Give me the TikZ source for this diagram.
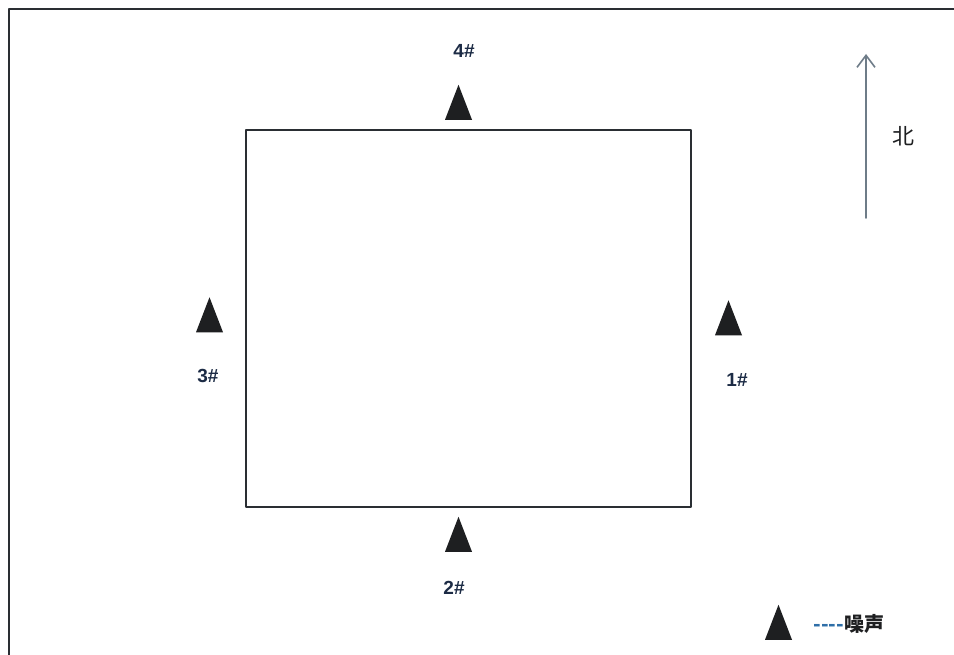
\documentclass[tikz,border=0pt]{standalone}
\usepackage{fontspec}
\setmainfont{Liberation Sans}
\newfontfamily\cjk{Noto Sans CJK SC}
\usetikzlibrary{arrows.meta,positioning,shapes.geometric}
\definecolor{siteInk}{HTML}{1C2B45}
\definecolor{siteLine}{HTML}{2A2E33}
\definecolor{siteArrow}{HTML}{6E7C88}
\definecolor{siteDash}{HTML}{2F6FA8}
\definecolor{siteMark}{HTML}{1E1F21}

\begin{document}
\begin{tikzpicture}[x=1pt,y=-1pt,>=Latex,line cap=round,line join=round]
\useasboundingbox (0,0) rectangle (954,655);
\path[fill=white] (0,0) rectangle (954,655);
\tikzset{frame/.style={draw=siteLine,line width=1.9pt},station/.style={isosceles triangle,shape border rotate=90,isosceles triangle stretches,minimum width=27pt,minimum height=35pt,inner sep=0pt,fill=siteMark},tag/.style={text=siteInk,font=\bfseries\fontsize{19}{21}\selectfont}}
% outer border, open on the right and bottom
\draw[frame] (9,655) -- (9,9) -- (954,9);
\node[frame,inner sep=0pt,minimum width=445pt,minimum height=377pt] (yard) at (468.5,318.5) {};
% noise points
\node[station] (s4) at (458.5,110.5) {};
\node[tag] (t4) at (464,51) {4\#};
\node[station] (s3) at (209.5,323) {};
\node[tag] (t3) at (208,376) {3\#};
\node[station] (s1) at (728.5,326) {};
\node[tag] (t1) at (737,380) {1\#};
\node[station] (s2) at (458.5,542.5) {};
\node[tag] (t2) at (454,588) {2\#};
% north arrow
\coordinate (ntail) at (866,218);
\coordinate (nhead) at (866,54);
\draw[draw=siteArrow,line width=1.6pt,-{Straight Barb[length=12pt,width=18pt]}] (ntail) -- (nhead);
\node[font=\cjk\fontsize{22}{24}\selectfont,text=siteMark] (north) at (903,136) {北};
% legend
\node[station] (key) at (778.5,630.5) {};
\node[font=\cjk\bfseries\fontsize{20}{22}\selectfont,text=siteMark,anchor=west] (keytext) at (810,624) {{\color{siteDash}----}噪声};
\end{tikzpicture}
\end{document}
